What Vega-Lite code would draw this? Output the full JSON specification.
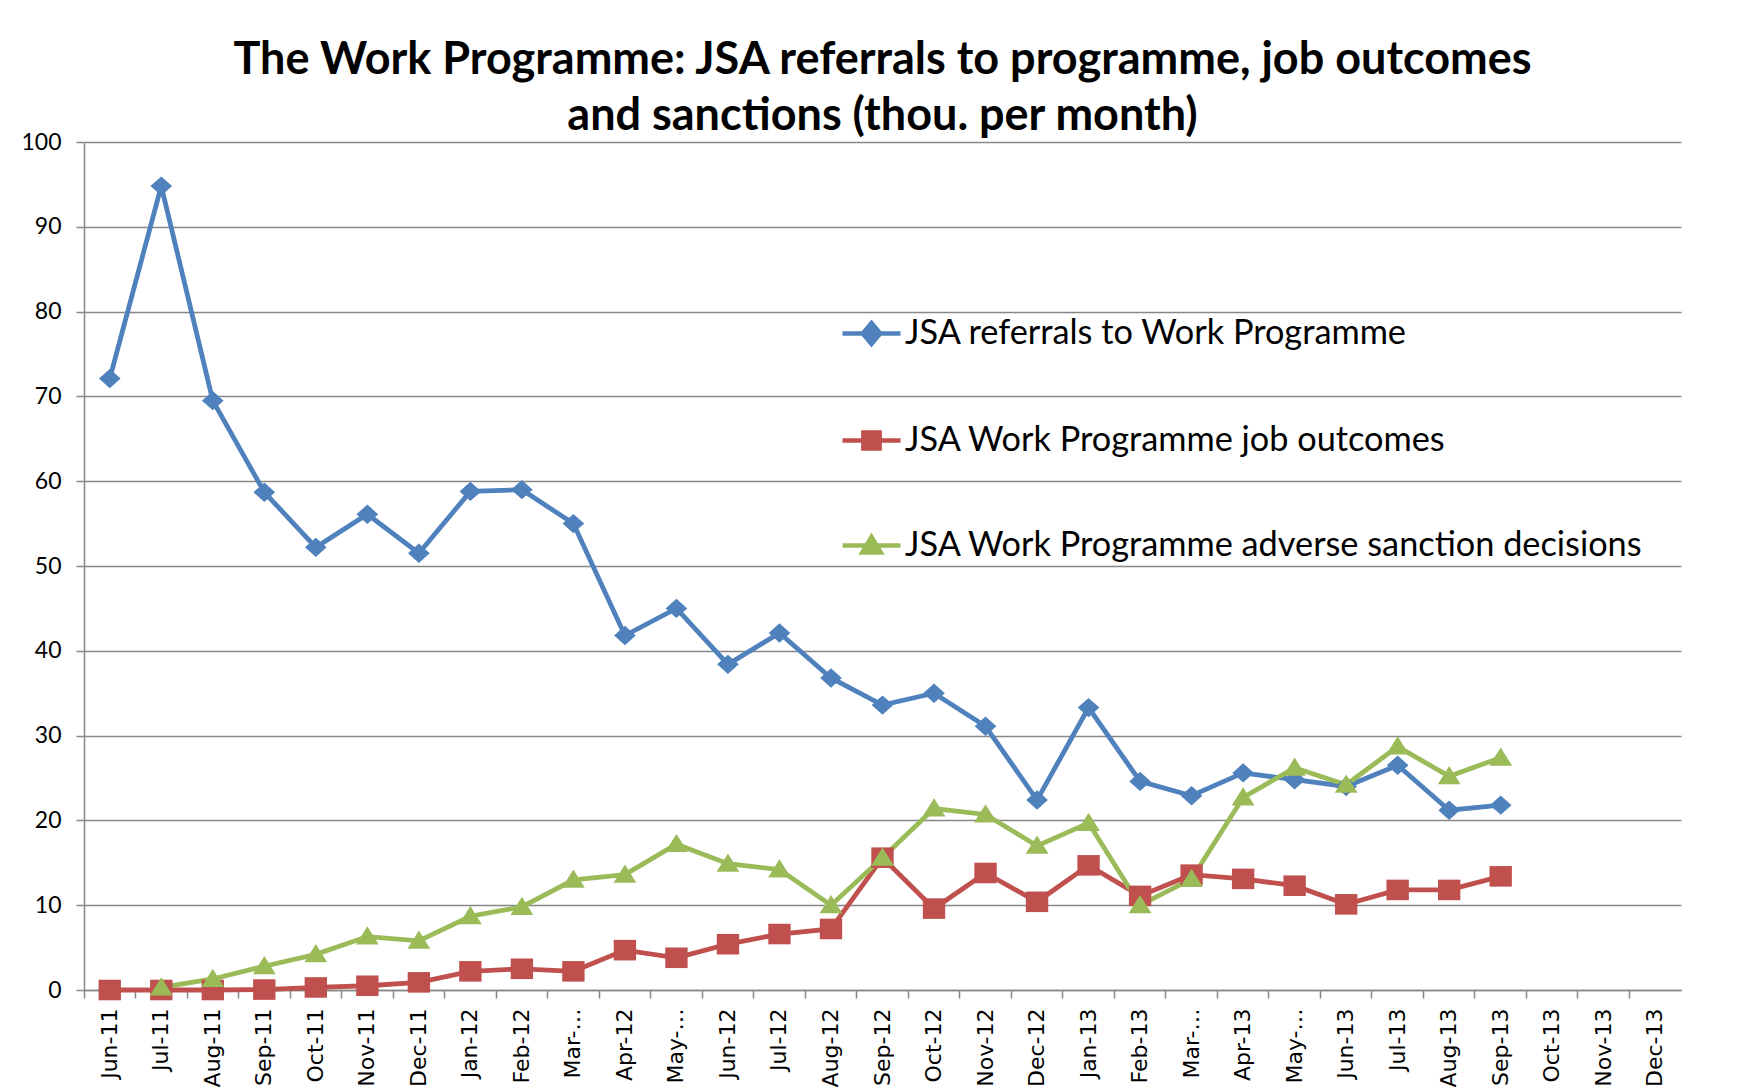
{
  "$schema": "https://vega.github.io/schema/vega-lite/v6.json",
  "width": 1597,
  "height": 848,
  "autosize": {"type": "none"},
  "padding": {"left": 84, "top": 142, "right": 61, "bottom": 97},
  "background": "white",
  "config": {"view": {"stroke": null}, "font": "Lato"},
  "title": {
    "text": ["The Work Programme: JSA referrals to programme, job outcomes", "and sanctions (thou. per month)"],
    "anchor": "middle",
    "frame": "group",
    "font": "Lato",
    "fontSize": 45,
    "fontWeight": "bold",
    "color": "black",
    "lineHeight": 56,
    "offset": -8
  },
  "data": {
    "values": [
      {"month": "Jun-11", "series": "JSA referrals to Work Programme", "value": 72.1},
      {"month": "Jul-11", "series": "JSA referrals to Work Programme", "value": 94.8},
      {"month": "Aug-11", "series": "JSA referrals to Work Programme", "value": 69.5},
      {"month": "Sep-11", "series": "JSA referrals to Work Programme", "value": 58.7},
      {"month": "Oct-11", "series": "JSA referrals to Work Programme", "value": 52.2},
      {"month": "Nov-11", "series": "JSA referrals to Work Programme", "value": 56.1},
      {"month": "Dec-11", "series": "JSA referrals to Work Programme", "value": 51.5},
      {"month": "Jan-12", "series": "JSA referrals to Work Programme", "value": 58.8},
      {"month": "Feb-12", "series": "JSA referrals to Work Programme", "value": 59.0},
      {"month": "Mar-12", "series": "JSA referrals to Work Programme", "value": 55.0},
      {"month": "Apr-12", "series": "JSA referrals to Work Programme", "value": 41.8},
      {"month": "May-12", "series": "JSA referrals to Work Programme", "value": 45.0},
      {"month": "Jun-12", "series": "JSA referrals to Work Programme", "value": 38.4},
      {"month": "Jul-12", "series": "JSA referrals to Work Programme", "value": 42.1},
      {"month": "Aug-12", "series": "JSA referrals to Work Programme", "value": 36.8},
      {"month": "Sep-12", "series": "JSA referrals to Work Programme", "value": 33.6},
      {"month": "Oct-12", "series": "JSA referrals to Work Programme", "value": 35.0},
      {"month": "Nov-12", "series": "JSA referrals to Work Programme", "value": 31.1},
      {"month": "Dec-12", "series": "JSA referrals to Work Programme", "value": 22.4},
      {"month": "Jan-13", "series": "JSA referrals to Work Programme", "value": 33.3},
      {"month": "Feb-13", "series": "JSA referrals to Work Programme", "value": 24.6},
      {"month": "Mar-13", "series": "JSA referrals to Work Programme", "value": 22.9},
      {"month": "Apr-13", "series": "JSA referrals to Work Programme", "value": 25.6},
      {"month": "May-13", "series": "JSA referrals to Work Programme", "value": 24.8},
      {"month": "Jun-13", "series": "JSA referrals to Work Programme", "value": 24.0},
      {"month": "Jul-13", "series": "JSA referrals to Work Programme", "value": 26.5},
      {"month": "Aug-13", "series": "JSA referrals to Work Programme", "value": 21.2},
      {"month": "Sep-13", "series": "JSA referrals to Work Programme", "value": 21.8},
      {"month": "Jun-11", "series": "JSA Work Programme job outcomes", "value": 0.0},
      {"month": "Jul-11", "series": "JSA Work Programme job outcomes", "value": 0.0},
      {"month": "Aug-11", "series": "JSA Work Programme job outcomes", "value": 0.0},
      {"month": "Sep-11", "series": "JSA Work Programme job outcomes", "value": 0.05},
      {"month": "Oct-11", "series": "JSA Work Programme job outcomes", "value": 0.3},
      {"month": "Nov-11", "series": "JSA Work Programme job outcomes", "value": 0.5},
      {"month": "Dec-11", "series": "JSA Work Programme job outcomes", "value": 0.9},
      {"month": "Jan-12", "series": "JSA Work Programme job outcomes", "value": 2.2},
      {"month": "Feb-12", "series": "JSA Work Programme job outcomes", "value": 2.5},
      {"month": "Mar-12", "series": "JSA Work Programme job outcomes", "value": 2.2},
      {"month": "Apr-12", "series": "JSA Work Programme job outcomes", "value": 4.7},
      {"month": "May-12", "series": "JSA Work Programme job outcomes", "value": 3.8},
      {"month": "Jun-12", "series": "JSA Work Programme job outcomes", "value": 5.4},
      {"month": "Jul-12", "series": "JSA Work Programme job outcomes", "value": 6.6},
      {"month": "Aug-12", "series": "JSA Work Programme job outcomes", "value": 7.2},
      {"month": "Sep-12", "series": "JSA Work Programme job outcomes", "value": 15.6},
      {"month": "Oct-12", "series": "JSA Work Programme job outcomes", "value": 9.6},
      {"month": "Nov-12", "series": "JSA Work Programme job outcomes", "value": 13.8},
      {"month": "Dec-12", "series": "JSA Work Programme job outcomes", "value": 10.4},
      {"month": "Jan-13", "series": "JSA Work Programme job outcomes", "value": 14.7},
      {"month": "Feb-13", "series": "JSA Work Programme job outcomes", "value": 11.1},
      {"month": "Mar-13", "series": "JSA Work Programme job outcomes", "value": 13.6},
      {"month": "Apr-13", "series": "JSA Work Programme job outcomes", "value": 13.1},
      {"month": "May-13", "series": "JSA Work Programme job outcomes", "value": 12.3},
      {"month": "Jun-13", "series": "JSA Work Programme job outcomes", "value": 10.1},
      {"month": "Jul-13", "series": "JSA Work Programme job outcomes", "value": 11.8},
      {"month": "Aug-13", "series": "JSA Work Programme job outcomes", "value": 11.8},
      {"month": "Sep-13", "series": "JSA Work Programme job outcomes", "value": 13.4},
      {"month": "Jul-11", "series": "JSA Work Programme adverse sanction decisions", "value": 0.3},
      {"month": "Aug-11", "series": "JSA Work Programme adverse sanction decisions", "value": 1.3},
      {"month": "Sep-11", "series": "JSA Work Programme adverse sanction decisions", "value": 2.8},
      {"month": "Oct-11", "series": "JSA Work Programme adverse sanction decisions", "value": 4.2},
      {"month": "Nov-11", "series": "JSA Work Programme adverse sanction decisions", "value": 6.3},
      {"month": "Dec-11", "series": "JSA Work Programme adverse sanction decisions", "value": 5.8},
      {"month": "Jan-12", "series": "JSA Work Programme adverse sanction decisions", "value": 8.7},
      {"month": "Feb-12", "series": "JSA Work Programme adverse sanction decisions", "value": 9.8},
      {"month": "Mar-12", "series": "JSA Work Programme adverse sanction decisions", "value": 13.0},
      {"month": "Apr-12", "series": "JSA Work Programme adverse sanction decisions", "value": 13.6},
      {"month": "May-12", "series": "JSA Work Programme adverse sanction decisions", "value": 17.2},
      {"month": "Jun-12", "series": "JSA Work Programme adverse sanction decisions", "value": 14.9},
      {"month": "Jul-12", "series": "JSA Work Programme adverse sanction decisions", "value": 14.2},
      {"month": "Aug-12", "series": "JSA Work Programme adverse sanction decisions", "value": 10.0},
      {"month": "Sep-12", "series": "JSA Work Programme adverse sanction decisions", "value": 15.6},
      {"month": "Oct-12", "series": "JSA Work Programme adverse sanction decisions", "value": 21.4},
      {"month": "Nov-12", "series": "JSA Work Programme adverse sanction decisions", "value": 20.7},
      {"month": "Dec-12", "series": "JSA Work Programme adverse sanction decisions", "value": 17.0},
      {"month": "Jan-13", "series": "JSA Work Programme adverse sanction decisions", "value": 19.7},
      {"month": "Feb-13", "series": "JSA Work Programme adverse sanction decisions", "value": 10.0},
      {"month": "Mar-13", "series": "JSA Work Programme adverse sanction decisions", "value": 13.1},
      {"month": "Apr-13", "series": "JSA Work Programme adverse sanction decisions", "value": 22.7},
      {"month": "May-13", "series": "JSA Work Programme adverse sanction decisions", "value": 26.2},
      {"month": "Jun-13", "series": "JSA Work Programme adverse sanction decisions", "value": 24.2},
      {"month": "Jul-13", "series": "JSA Work Programme adverse sanction decisions", "value": 28.7},
      {"month": "Aug-13", "series": "JSA Work Programme adverse sanction decisions", "value": 25.2},
      {"month": "Sep-13", "series": "JSA Work Programme adverse sanction decisions", "value": 27.4}
    ]
  },
  "encoding": {
    "x": {
      "field": "month",
      "type": "ordinal",
      "sort": null,
      "scale": {
        "type": "band",
        "paddingInner": 0,
        "paddingOuter": 0,
        "domain": ["Jun-11","Jul-11","Aug-11","Sep-11","Oct-11","Nov-11","Dec-11","Jan-12","Feb-12","Mar-12","Apr-12","May-12","Jun-12","Jul-12","Aug-12","Sep-12","Oct-12","Nov-12","Dec-12","Jan-13","Feb-13","Mar-13","Apr-13","May-13","Jun-13","Jul-13","Aug-13","Sep-13","Oct-13","Nov-13","Dec-13"]
      },
      "axis": {
        "title": null,
        "labelAngle": -90,
        "labelFont": "DejaVu Sans",
        "labelFontSize": 22,
        "labelColor": "black",
        "labelPadding": 10,
        "bandPosition": 0,
        "tickSize": 8,
        "tickColor": "#878787",
        "tickWidth": 1.5,
        "domainColor": "#878787",
        "domainWidth": 1.5,
        "grid": false,
        "labelExpr": "indexof(['Mar','May'], substring(datum.value,0,3)) >= 0 ? substring(datum.value,0,4) + '…' : datum.value"
      }
    },
    "y": {
      "field": "value",
      "type": "quantitative",
      "scale": {"domain": [0, 100], "nice": false},
      "axis": {
        "title": null,
        "values": [0,10,20,30,40,50,60,70,80,90,100],
        "labelFont": "Lato",
        "labelFontSize": 23,
        "labelColor": "black",
        "labelPadding": 15,
        "tickSize": 8,
        "tickColor": "#878787",
        "tickWidth": 1.5,
        "domainColor": "#878787",
        "domainWidth": 1.5,
        "grid": true,
        "gridColor": "#878787",
        "gridWidth": 1.5
      }
    },
    "color": {
      "field": "series",
      "type": "nominal",
      "scale": {
        "domain": ["JSA referrals to Work Programme", "JSA Work Programme job outcomes", "JSA Work Programme adverse sanction decisions"],
        "range": ["#4F81BD", "#C0504D", "#9BBB59"]
      },
      "legend": {
        "orient": "none",
        "legendX": 756,
        "legendY": 160,
        "title": null,
        "padding": 0,
        "labelFont": "Lato",
        "labelFontSize": 34.3,
        "labelColor": "black",
        "labelLimit": 0,
        "labelOffset": 2,
        "symbolSize": 3364,
        "symbolStrokeWidth": 4.5,
        "rowPadding": 56,
        "encode": {
          "symbols": {
            "update": {
              "shape": {"signal": "datum.value === 'JSA referrals to Work Programme' ? 'M-1,0L1,0M0,-0.36L0.3,0L0,0.36L-0.3,0Z' : datum.value === 'JSA Work Programme job outcomes' ? 'M-1,0L1,0M-0.28,-0.28L0.28,-0.28L0.28,0.28L-0.28,0.28Z' : 'M-1,0L1,0M0,-0.3L0.32,0.24L-0.32,0.24Z'"},
              "fill": {"signal": "scale('color', datum.value)"},
              "stroke": {"signal": "scale('color', datum.value)"},
              "opacity": {"value": 1},
              "fillOpacity": {"value": 1},
              "strokeOpacity": {"value": 1}
            }
          }
        }
      }
    }
  },
  "layer": [
    {
      "mark": {"type": "line", "strokeWidth": 4.8}
    },
    {
      "transform": [{"filter": "datum.series === 'JSA referrals to Work Programme'"}],
      "mark": {"type": "point", "filled": true, "opacity": 1, "size": 520, "shape": "M0,-0.85L0.95,0L0,0.85L-0.95,0Z"}
    },
    {
      "transform": [{"filter": "datum.series === 'JSA Work Programme job outcomes'"}],
      "mark": {"type": "point", "filled": true, "opacity": 1, "size": 500, "shape": "M-1,-0.92L1,-0.92L1,0.92L-1,0.92Z"}
    },
    {
      "transform": [{"filter": "datum.series === 'JSA Work Programme adverse sanction decisions'"}],
      "mark": {"type": "point", "filled": true, "opacity": 1, "size": 520, "shape": "M0,-0.9L1,0.7L-1,0.7Z"}
    }
  ]
}
